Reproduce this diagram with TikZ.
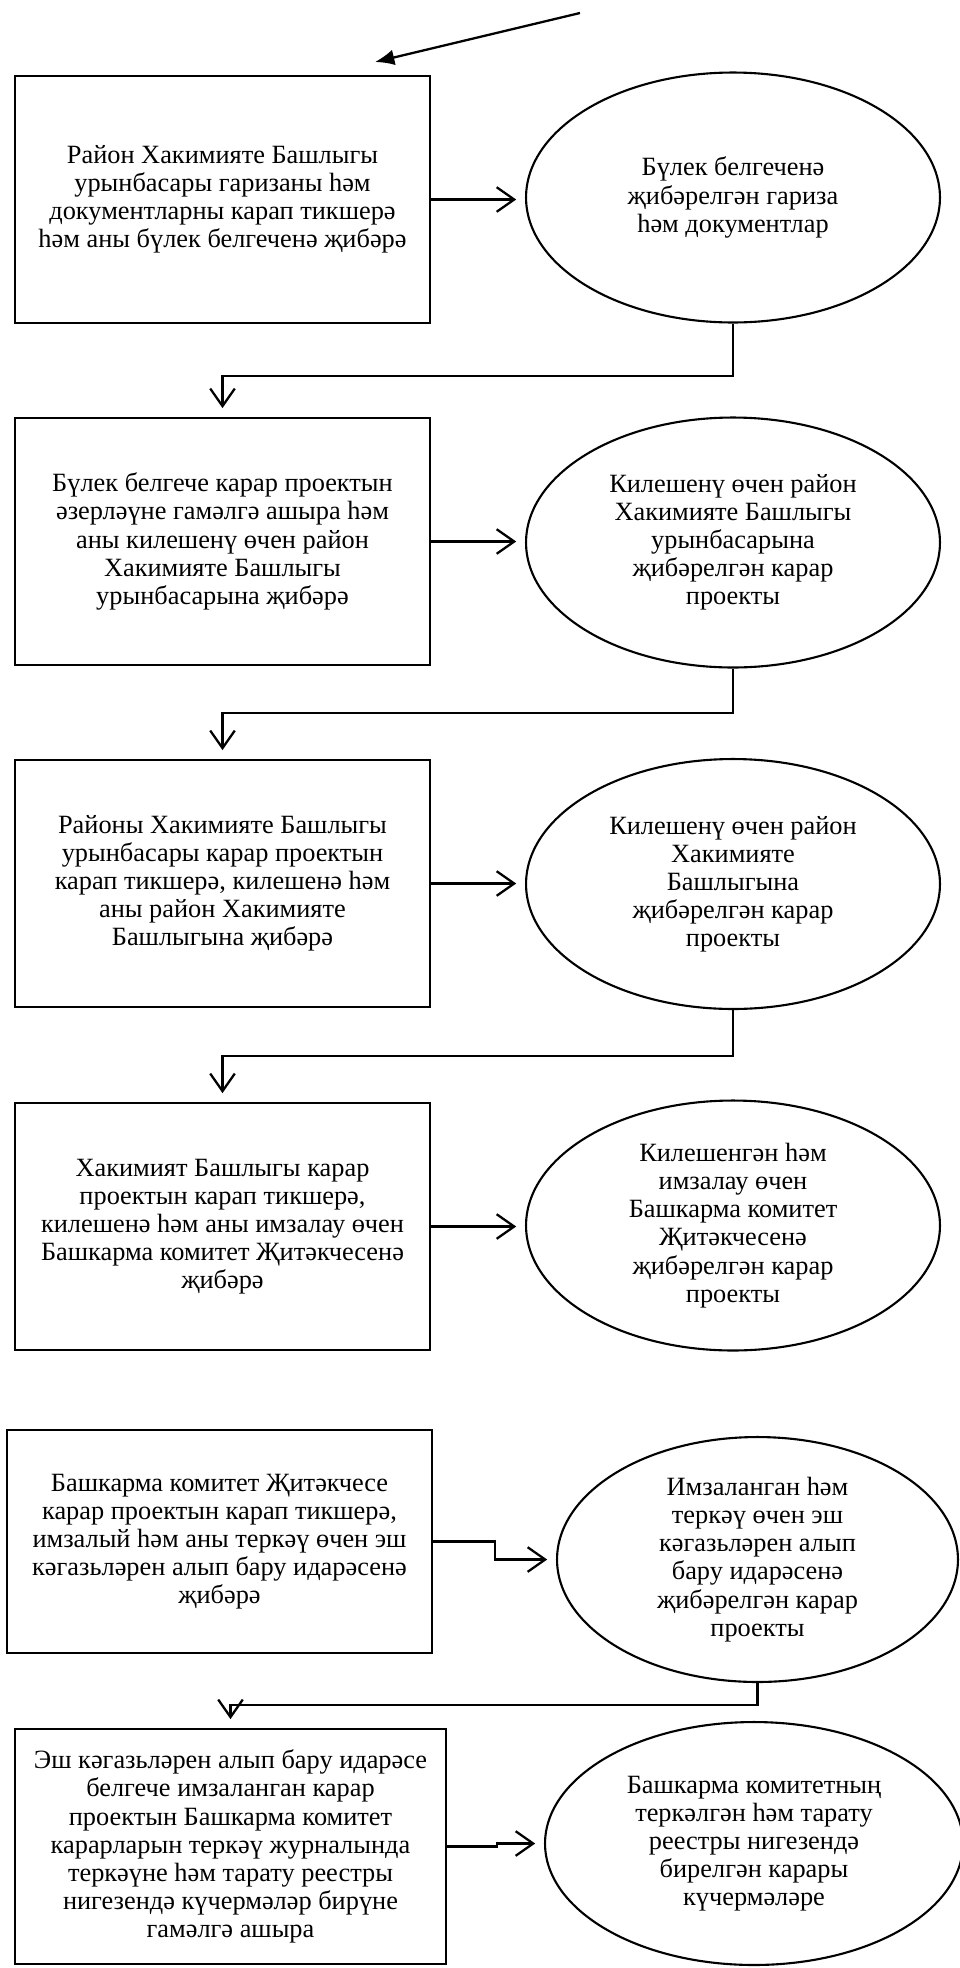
\documentclass[tikz,border=0pt]{standalone}
\usepackage{fontspec}
\setmainfont{Liberation Serif}
\usetikzlibrary{arrows.meta,shapes.geometric}

\begin{document}
\begin{tikzpicture}[x=0.02cm,y=-0.02cm,
    font=\fontsize{15}{16}\selectfont,
    box/.style={draw, line width=1.3pt, align=center, inner sep=0pt},
    oval/.style={draw, ellipse, line width=1.2pt, align=center, inner sep=0pt},
    flow/.style={line width=1.3pt, -{Straight Barb[length=10pt,width=14pt]}}]
  \useasboundingbox (0,0) rectangle (960,1968);
  \node[box, minimum width=8.3cm, minimum height=4.94cm] (b1) at (222.5,199.5)
    {Район Хакимияте Башлыгы\\урынбасары гаризаны һәм\\документларны карап тикшерә\\һәм аны бүлек белгеченә җибәрә};
  \node[oval, minimum width=8.28cm, minimum height=5cm] (e1) at (733,197.5)
    {Бүлек белгеченә\\җибәрелгән гариза\\һәм документлар};
  \node[box, minimum width=8.3cm, minimum height=4.94cm] (b2) at (222.5,541.5)
    {Бүлек белгече карар проектын\\әзерләүне гамәлгә ашыра һәм\\аны килешенү өчен район\\Хакимияте Башлыгы\\урынбасарына җибәрә};
  \node[oval, minimum width=8.28cm, minimum height=5cm] (e2) at (733,542.5)
    {Килешенү өчен район\\Хакимияте Башлыгы\\урынбасарына\\җибәрелгән карар\\проекты};
  \node[box, minimum width=8.3cm, minimum height=4.94cm] (b3) at (222.5,883.5)
    {Районы Хакимияте Башлыгы\\урынбасары карар проектын\\карап тикшерә, килешенә һәм\\аны район Хакимияте\\Башлыгына җибәрә};
  \node[oval, minimum width=8.28cm, minimum height=5cm] (e3) at (733,884)
    {Килешенү өчен район\\Хакимияте\\Башлыгына\\җибәрелгән карар\\проекты};
  \node[box, minimum width=8.3cm, minimum height=4.94cm] (b4) at (222.5,1226.5)
    {Хакимият Башлыгы карар\\проектын карап тикшерә,\\килешенә һәм аны имзалау өчен\\Башкарма комитет Җитәкчесенә\\җибәрә};
  \node[oval, minimum width=8.28cm, minimum height=5cm] (e4) at (733,1225.5)
    {Килешенгән һәм\\имзалау өчен\\Башкарма комитет\\Җитәкчесенә\\җибәрелгән карар\\проекты};
  \node[box, minimum width=8.5cm, minimum height=4.46cm] (b5) at (219.5,1541.5)
    {Башкарма комитет Җитәкчесе\\карар проектын карап тикшерә,\\имзалый һәм аны теркәү өчен эш\\кәгазьләрен алып бару идарәсенә\\җибәрә};
  \node[oval, minimum width=8.02cm, minimum height=4.9cm] (e5) at (757.5,1559.5)
    {Имзаланган һәм\\теркәү өчен эш\\кәгазьләрен алып\\бару идарәсенә\\җибәрелгән карар\\проекты};
  \node[box, minimum width=8.62cm, minimum height=4.7cm] (b6) at (230.5,1846.5)
    {Эш кәгазьләрен алып бару идарәсе\\белгече имзаланган карар\\проектын Башкарма комитет\\карарларын теркәү журналында\\теркәүне һәм тарату реестры\\нигезендә күчермәләр бирүне\\гамәлгә ашыра};
  \node[oval, minimum width=8.36cm, minimum height=4.86cm] (e6) at (754,1843.5)
    {Башкарма комитетның\\теркәлгән һәм тарату\\реестры нигезендә\\бирелгән карары\\күчермәләре};
  \coordinate (src) at (580,13);
  \coordinate (dst) at (375,62);
  \draw[line width=1.3pt, -{Latex[length=11pt,width=9pt]}] (src) -- (dst);
  \begin{scope}[flow, shorten >=5pt]
    \draw (b1.east) -- (b1.east -| e1.west);
    \draw (b2.east) -- (b2.east -| e2.west);
    \draw (b3.east) -- (b3.east -| e3.west);
    \draw (b4.east) -- (b4.east -| e4.west);
    \draw (b5.east) -- ++(62,0) |- (e5.west);
    \draw (b6.east) -- ++(50,0) |- (e6.west);
    \draw (e1.south) -- ++(0,52.5) -| (b2.north);
    \draw (e2.south) -- ++(0,44.5) -| (b3.north);
    \draw (e3.south) -- ++(0,46) -| (b4.north);
    \draw (e5.south) -- ++(0,22) -| (b6.north);
  \end{scope}
\end{tikzpicture}
\end{document}
